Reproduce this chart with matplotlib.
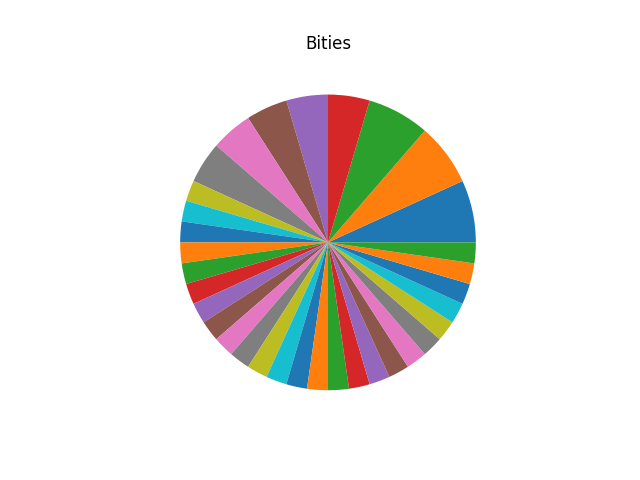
import matplotlib
matplotlib.use("Agg")
import matplotlib.pyplot as plt

# wedge sizes (counter-clockwise from 3 o'clock)
values = [3, 3, 3, 2, 2, 2, 2, 2,
          1, 1, 1,
          1, 1, 1, 1, 1, 1, 1, 1, 1, 1, 1,
          1, 1, 1, 1, 1, 1, 1, 1, 1, 1, 1]
title = "Bities"

fig, ax = plt.subplots(figsize=(6.4, 4.8), dpi=100)
ax.pie(values)
ax.set_title(title)
fig.savefig("out.png")
